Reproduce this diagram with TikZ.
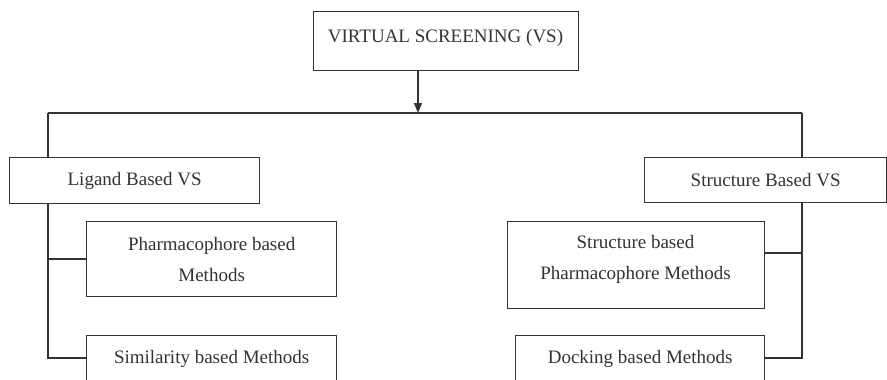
\documentclass[tikz,border=0pt]{standalone}
\usepackage{fontspec}
\setmainfont{Liberation Serif}
\usetikzlibrary{arrows.meta}
\definecolor{ink}{HTML}{333333}
\begin{document}
\begin{tikzpicture}[x=1pt,y=-1pt,
  every node/.style={font=\fontsize{19}{31}\selectfont, text=ink},
  box/.style={draw=ink, line width=1.3pt, inner sep=0pt, align=center},
  wire/.style={draw=ink, line width=1.3pt},
  tip/.style={-{Triangle[length=10pt,width=8pt]}}]
\useasboundingbox (0,0) rectangle (887,380);

% boxes, given by their corners
\node[box, minimum width=265pt, minimum height=59pt, anchor=north west] (vs) at (313,11) {};
\node[align=center] (vstext) at (445.5,38) {VIRTUAL SCREENING (VS)};
\node[box, minimum width=250pt, minimum height=46pt, anchor=north west] (lig) at (9,157)
  {Ligand Based VS};
\node[box, minimum width=242pt, minimum height=45pt, anchor=north west] (str) at (644,157)
  {Structure Based VS};
\node[box, minimum width=250pt, minimum height=75pt, anchor=north west] (pha) at (86,221)
  {Pharmacophore based\\Methods};
\node[box, minimum width=250pt, minimum height=47pt, anchor=north west] (sim) at (86,335)
  {Similarity based Methods};
\node[box, minimum width=257pt, minimum height=87pt, anchor=north west] (spm) at (507,221) {};
\node[align=center] (spmtext) at (635.5,259) {Structure based\\Pharmacophore Methods};
\node[box, minimum width=249pt, minimum height=47pt, anchor=north west] (dock) at (515,335)
  {Docking based Methods};

% branching lines
\coordinate (bar) at (418,113);
\coordinate (barL) at (48,113);
\coordinate (barR) at (802,113);
\draw[wire, tip] (vs.south -| bar) -- (bar);
\draw[wire] (barL) -- (barR);
\draw[wire] (barL) -- (barL |- lig.north);
\draw[wire] (barR) -- (barR |- str.north);

% left branch
\coordinate (lpha) at (48,259);
\coordinate (lsim) at (48,358);
\draw[wire] (barL |- lig.south) -- (lsim) -- (lsim -| sim.west);
\draw[wire] (lpha) -- (lpha -| pha.west);

% right branch
\coordinate (rspm) at (802,253);
\coordinate (rdock) at (802,358);
\draw[wire] (barR |- str.south) -- (rdock) -- (rdock -| dock.east);
\draw[wire] (rspm) -- (rspm -| spm.east);
\end{tikzpicture}
\end{document}
